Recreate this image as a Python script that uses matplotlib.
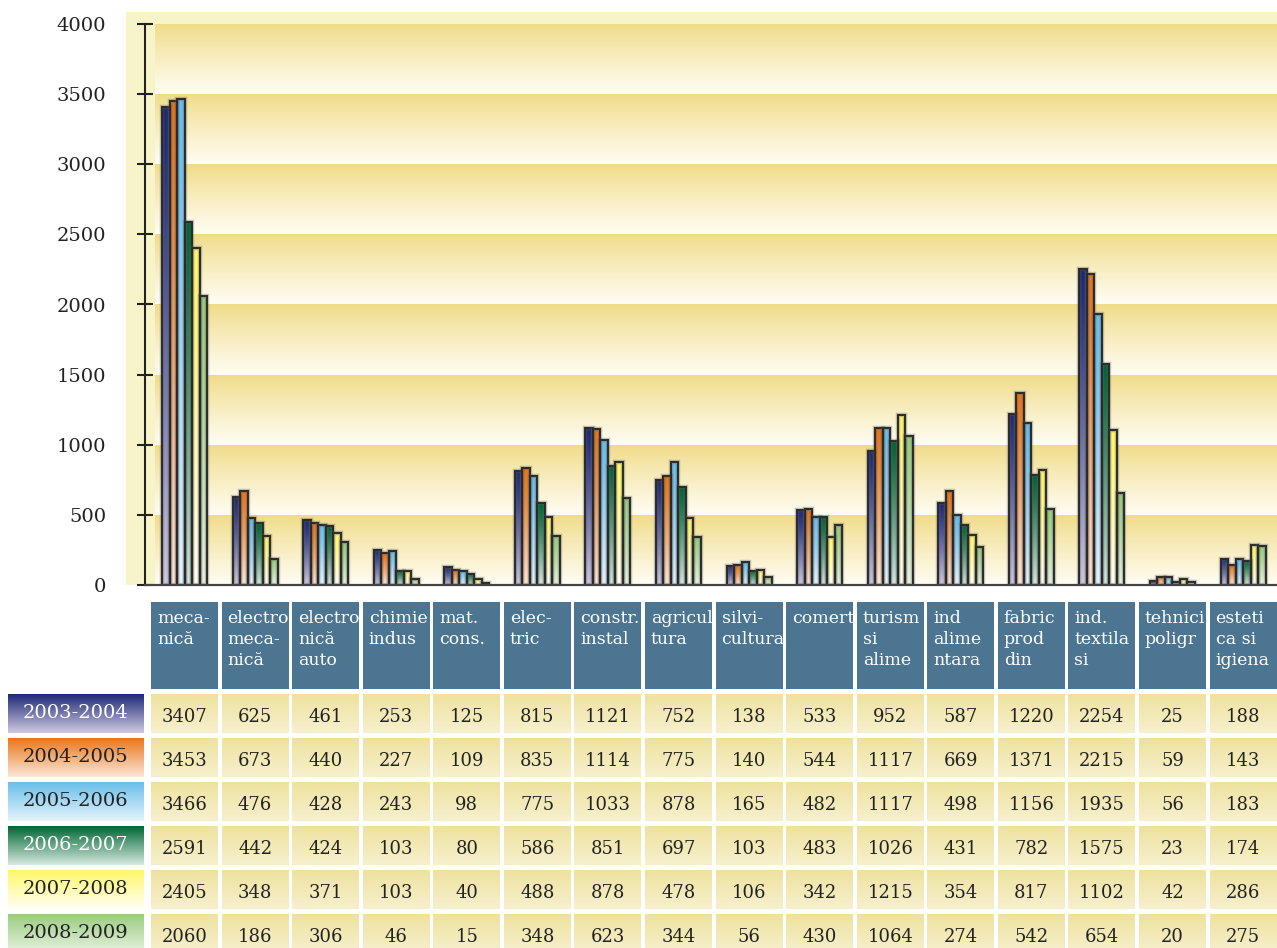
import numpy as np
import matplotlib
matplotlib.use("Agg")
import matplotlib.pyplot as plt
import matplotlib.patheffects as pe
from matplotlib.patches import Rectangle
from matplotlib.colors import to_rgb

# ---------------- data ----------------
categories = ['meca-\nnică', 'electro\nmeca-\nnică', 'electro\nnică\nauto', 'chimie\nindus',
              'mat.\ncons.', 'elec-\ntric', 'constr.\ninstal', 'agricul\ntura', 'silvi-\ncultura',
              'comert', 'turism\nsi\nalime', 'ind\nalime\nntara', 'fabric\nprod\ndin',
              'ind.\ntextila\nsi', 'tehnici\npoligr', 'esteti\nca si\nigiena']
series_names = ['2003-2004', '2004-2005', '2005-2006', '2006-2007', '2007-2008', '2008-2009']
v_2003_2004 = [3407, 625, 461, 253, 125, 815, 1121, 752, 138, 533, 952, 587, 1220, 2254, 25, 188]
v_2004_2005 = [3453, 673, 440, 227, 109, 835, 1114, 775, 140, 544, 1117, 669, 1371, 2215, 59, 143]
v_2005_2006 = [3466, 476, 428, 243, 98, 775, 1033, 878, 165, 482, 1117, 498, 1156, 1935, 56, 183]
v_2006_2007 = [2591, 442, 424, 103, 80, 586, 851, 697, 103, 483, 1026, 431, 782, 1575, 23, 174]
v_2007_2008 = [2405, 348, 371, 103, 40, 488, 878, 478, 106, 342, 1215, 354, 817, 1102, 42, 286]
v_2008_2009 = [2060, 186, 306, 46, 15, 348, 623, 344, 56, 430, 1064, 274, 542, 654, 20, 275]
series_values = [v_2003_2004, v_2004_2005, v_2005_2006, v_2006_2007, v_2007_2008, v_2008_2009]
yticks = [0, 500, 1000, 1500, 2000, 2500, 3000, 3500, 4000]

# ---------------- style ----------------
top_colors = ['#1E2A78', '#E8761A', '#6ABEEA', '#006633', '#FFF76A', '#99CC7F']
bottom_colors = ['#CFC8E0', '#FDE6D8', '#E4F4FC', '#D5E9E0', '#FFFFF4', '#E8F3E0']
label_text_colors = ['white', '#222222', '#222222', 'white', '#222222', '#222222']
SERIF = 'DejaVu Serif'

W, H = 1277, 948
fig = plt.figure(figsize=(W / 100, H / 100), dpi=100)
fig.patch.set_facecolor('white')


def vgrad(top, bottom, n=128, gamma=1.0):
    t = (np.linspace(0, 1, n) ** gamma)[:, None]
    a = np.array(to_rgb(top))[None, :]
    b = np.array(to_rgb(bottom))[None, :]
    return (a * (1 - t) + b * t)[:, None, :]


def fx(px):
    return px / W


def fy(py):
    return (H - py) / H


# outer light-yellow frame
fig.add_artist(Rectangle((fx(126), fy(585)), fx(1277) - fx(126), fy(12) - fy(585),
                         transform=fig.transFigure, facecolor='#F8F4CA',
                         edgecolor='none', zorder=-5))

# ---------------- main chart ----------------
ax_left, ax_right, ax_top, ax_bot = 145, 1277, 24, 585
ax = fig.add_axes([fx(ax_left), fy(ax_bot), fx(ax_right) - fx(ax_left), fy(ax_top) - fy(ax_bot)])
ax.set_facecolor('none')

pitch_px = 70.57
x0_px = 184.5
xmin = -(x0_px - ax_left) / pitch_px
xmax = (ax_right - x0_px) / pitch_px

# gradient bands
band_x0 = xmin + 10 / pitch_px
for k in range(len(yticks) - 1):
    ax.imshow(vgrad('#F0DB86', '#FFFDF4', gamma=0.9), extent=[band_x0, xmax, yticks[k], yticks[k + 1]],
              aspect='auto', origin='upper', zorder=0, interpolation='bilinear')

x = np.arange(len(categories))
bw = 7.5 / pitch_px
halo = [pe.withStroke(linewidth=3.2, foreground=(0.35, 0.35, 0.35, 0.35))]
for j, vals in enumerate(series_values):
    bars = ax.bar(x + (j - 2.5) * bw, vals, width=bw, facecolor='none',
                  edgecolor='#2a2a2a', linewidth=1.4, zorder=3)
    for b in bars:
        b.set_path_effects(halo)
        im = ax.imshow(vgrad(top_colors[j], bottom_colors[j], gamma=1.25),
                       extent=[b.get_x(), b.get_x() + b.get_width(), 0, b.get_height()],
                       aspect='auto', origin='upper', zorder=2, interpolation='bilinear')
        im.set_clip_path(b)

ax.set_xlim(xmin, xmax)
ax.set_ylim(0, 4000)
ax.set_xticks([])
ax.set_yticks(yticks)
ax.set_yticklabels([str(v) for v in yticks], fontsize=14, family=SERIF, color='#222222')
ax.tick_params(axis='y', direction='inout', length=12, width=1.5, color='#222222', pad=22)
for s in ['top', 'right']:
    ax.spines[s].set_visible(False)
ax.spines['left'].set_color('#222222')
ax.spines['left'].set_linewidth(1.5)
ax.spines['left'].set_zorder(5)
ax.spines['bottom'].set_color('#444444')
ax.spines['bottom'].set_linewidth(1.6)
ax.spines['bottom'].set_zorder(5)

# ---------------- table ----------------
tab = fig.add_axes([0, 0, 1, fy(590)])
tab.set_xlim(0, W)
tab.set_ylim(H, 590)
tab.axis('off')

col_w = 67
hdr_top, hdr_bot = 602, 689
row_tops = [694 + 44 * i for i in range(len(series_names))]
row_h = 39

for i, cat in enumerate(categories):
    left = x0_px - 33.5 + pitch_px * i
    tab.add_patch(Rectangle((left, hdr_top), col_w, hdr_bot - hdr_top,
                            facecolor='#4C7591', edgecolor='none'))
    tab.text(left + 6, hdr_top + 8, cat, ha='left', va='top', color='white',
             fontsize=12.5, family=SERIF, linespacing=1.3)
    for r, vals in enumerate(series_values):
        top = row_tops[r]
        tab.imshow(vgrad('#EFE29E', '#F6F0CE'), extent=[left, left + col_w, top + row_h, top],
                   aspect='auto', origin='upper', zorder=1, interpolation='bilinear')
        tab.text(left + col_w / 2, top + 23, str(vals[i]), ha='center', va='center',
                 color='#222222', fontsize=13, family=SERIF, zorder=3)

for r, name in enumerate(series_names):
    top = row_tops[r]
    tab.imshow(vgrad(top_colors[r], bottom_colors[r]), extent=[8, 144, top + row_h, top],
               aspect='auto', origin='upper', zorder=1, interpolation='bilinear')
    tab.text(76, top + 19, name, ha='center', va='center', color=label_text_colors[r],
             fontsize=14, family=SERIF, zorder=3)

tab.set_xlim(0, W)
tab.set_ylim(H, 590)

fig.savefig('out.png', dpi=100)
